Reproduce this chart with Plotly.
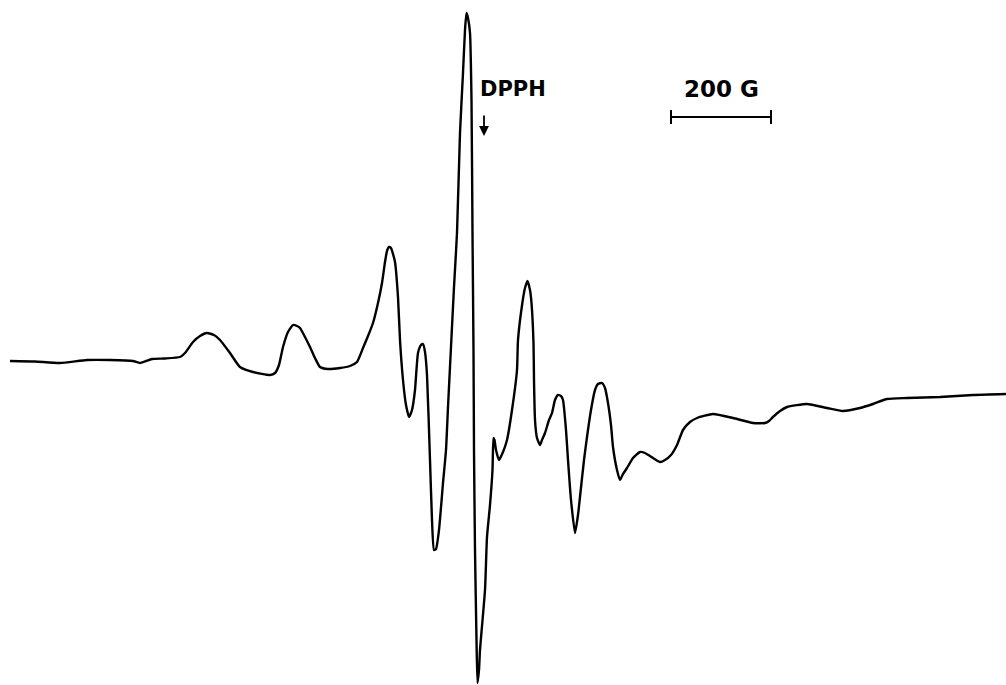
import plotly.graph_objects as go

# First-derivative EPR spectrum; field in gauss relative to the DPPH marker (g = 2.0036)
field_G = [
    -948, -898, -848, -794, -748, -702, -688, -676, -664, -638,
    -608, -598, -582, -568, -554, -540, -528, -508, -488, -462,
    -428, -418, -410, -402, -392, -382, -374, -368, -358, -348,
    -338, -328, -312, -288, -268, -254, -242, -232, -222, -212,
    -204, -198, -194, -190, -186, -182, -178, -172, -168, -162,
    -156, -150, -144, -138, -132, -126, -122, -118, -114, -108,
    -104, -100, -96, -90, -82, -76, -72, -66, -60, -54,
    -48, -42, -38, -35, -32, -28, -25, -23, -21, -20,
    -18, -15, -13, -10, -8, 2, 6, 12, 17, 19,
    21, 24, 30, 38, 46, 56, 66, 68, 77, 82,
    87, 92, 95, 99, 100, 102, 106, 112, 116, 122,
    130, 136, 142, 148, 154, 158, 164, 168, 174, 182,
    188, 192, 200, 206, 214, 222, 228, 236, 242, 248,
    254, 258, 266, 272, 278, 286, 298, 312, 322, 332,
    352, 362, 374, 386, 398, 412, 426, 458, 498, 538,
    562, 570, 578, 592, 606, 646, 686, 718, 752, 778,
    806, 846, 912, 978, 1044,
]

signal = [
    9, 8.5, 7, 10, 10, 9, 7, 9, 11, 11.5,
    13, 17, 28, 34, 37, 35, 30, 17, 3, -2,
    -5, -3, 5, 23, 38, 45, 44, 42, 33, 23,
    12, 3, 1, 2, 4, 8, 22, 34, 47, 67,
    87, 108, 119, 123, 122, 116, 108, 73, 30, -10,
    -35, -47, -40, -20, 17, 25, 26, 18, -5, -90,
    -150, -180, -179, -160, -113, -80, -37, 23, 83, 137,
    237, 297, 340, 357, 352, 337, 270, 137, 20, -80,
    -180, -270, -313, -300, -280, -220, -167, -135, -100, -68,
    -70, -80, -90, -82, -70, -40, 0, 30, 68, 82,
    89, 80, 67, 27, -10, -50, -68, -75, -70, -63,
    -50, -43, -30, -25, -26, -30, -60, -90, -130, -163,
    -145, -127, -90, -67, -40, -20, -14, -13, -18, -33,
    -55, -77, -100, -110, -104, -98, -88, -82, -83, -86,
    -92, -90, -85, -75, -60, -52, -48, -44, -48, -53,
    -53, -51, -47, -41, -37, -34, -38, -41, -38, -34,
    -29, -28, -27, -25, -24,
]

marker_label = "DPPH"
scale_label = "200 G"
scale_length_G = 200
scale_start_G = 374

fig = go.Figure()

fig.add_trace(go.Scatter(
    x=field_G, y=signal, mode="lines",
    line=dict(color="black", width=2.4, shape="spline", smoothing=0.5),
    hoverinfo="skip", showlegend=False,
))

# field scale bar with end ticks
bar_y = 253
fig.add_shape(type="line", x0=scale_start_G, x1=scale_start_G + scale_length_G,
              y0=bar_y, y1=bar_y, line=dict(color="black", width=2))
for xe in (scale_start_G, scale_start_G + scale_length_G):
    fig.add_shape(type="line", x0=xe, x1=xe, y0=bar_y - 7, y1=bar_y + 7,
                  line=dict(color="black", width=2))

fig.add_annotation(x=scale_start_G + scale_length_G / 2, y=281, text=f"<b>{scale_label}</b>",
                   showarrow=False, font=dict(family="DejaVu Sans", size=23, color="black"),
                   xanchor="center", yanchor="middle")

# DPPH reference marker
fig.add_annotation(x=58, y=281, text=f"<b>{marker_label}</b>", showarrow=False,
                   font=dict(family="DejaVu Sans", size=21, color="black"),
                   xanchor="center", yanchor="middle")
fig.add_annotation(x=0, y=234, ax=0, ay=256, axref="x", ayref="y", xref="x", yref="y",
                   text="", showarrow=True, arrowhead=2, arrowsize=1.1, arrowwidth=1.8,
                   arrowcolor="black")

fig.update_xaxes(visible=False, range=[-968, 1044])
fig.update_yaxes(visible=False, range=[-315, 370])
fig.update_layout(
    width=1006, height=685,
    margin=dict(l=0, r=0, t=0, b=0),
    paper_bgcolor="white", plot_bgcolor="white",
)

fig.write_html("out.html")
